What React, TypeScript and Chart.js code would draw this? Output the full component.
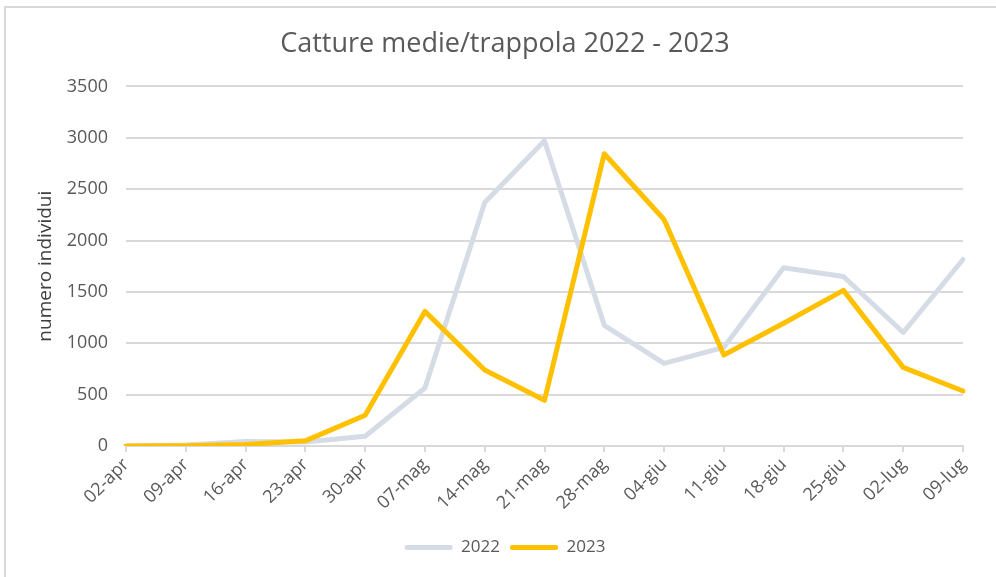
import React, { useEffect, useRef } from "react";
import { Chart, registerables } from "chart.js";

Chart.register(...registerables);

const categories = [
  "02-apr", "09-apr", "16-apr", "23-apr", "30-apr", "07-mag", "14-mag", "21-mag",
  "28-mag", "04-giu", "11-giu", "18-giu", "25-giu", "02-lug", "09-lug",
];
const values2022 = [0, 10, 45, 40, 95, 565, 2370, 2970, 1175, 805, 960, 1735, 1650, 1105, 1815];
const values2023 = [0, 2, 15, 50, 300, 1310, 740, 445, 2845, 2205, 885, 1195, 1515, 765, 535];
const yMin = 0;
const yMax = 3500;
const yStep = 500;

const FONT = "'Open Sans', 'Noto Sans', sans-serif";
const TEXT = "#595959";
const GRID = "#d9d9d9";

export default function App() {
  const ref = useRef<HTMLCanvasElement>(null);
  useEffect(() => {
    if (!ref.current) return;
    const chart = new Chart(ref.current, {
      type: "line",
      data: {
        labels: categories,
        datasets: [
          {
            label: "2022",
            data: values2022,
            borderColor: "#D6DCE5",
            backgroundColor: "#D6DCE5",
            borderWidth: 5,
            pointRadius: 0,
            tension: 0,
            borderCapStyle: "round",
            borderJoinStyle: "round",
            order: 1,
          },
          {
            label: "2023",
            data: values2023,
            borderColor: "#FFC000",
            backgroundColor: "#FFC000",
            borderWidth: 5,
            pointRadius: 0,
            tension: 0,
            borderCapStyle: "round",
            borderJoinStyle: "round",
            order: 0,
          },
        ],
      },
      options: {
        responsive: false,
        animation: false,
        layout: { padding: { left: 47, right: 33, top: 20, bottom: 11 } },
        plugins: {
          title: {
            display: true,
            text: "Catture medie/trappola 2022 - 2023",
            color: TEXT,
            font: { family: FONT, size: 27, weight: "normal" },
            padding: { top: 8, bottom: 26 },
          },
          legend: {
            position: "bottom",
            labels: {
              boxWidth: 48,
              boxHeight: 5,
              color: TEXT,
              font: { family: FONT, size: 17 },
              padding: 10,
              useBorderRadius: true,
              borderRadius: 2,
              sort: (a: any, b: any) => a.text.localeCompare(b.text),
              generateLabels: (c: any) =>
                Chart.defaults.plugins.legend.labels
                  .generateLabels(c)
                  .map((it: any) => ({ ...it, lineWidth: 0 })),
            },
          },
          tooltip: { enabled: false },
        },
        scales: {
          x: {
            grid: {
              drawOnChartArea: false,
              drawTicks: true,
              tickLength: 6,
              color: GRID,
              lineWidth: 2,
            },
            border: { color: GRID, width: 2 },
            ticks: {
              maxRotation: 45,
              minRotation: 45,
              color: TEXT,
              font: { family: FONT, size: 18 },
              padding: 2,
              autoSkip: false,
            },
            afterFit: (s: any) => {
              s.height = 83;
            },
          },
          y: {
            min: yMin,
            max: yMax,
            ticks: {
              stepSize: yStep,
              color: TEXT,
              font: { family: FONT, size: 18 },
              padding: 18,
              callback: (v: any) => String(v),
            },
            grid: { color: GRID, lineWidth: 2, drawTicks: false },
            border: { display: false },
            title: {
              display: true,
              text: "numero individui",
              color: "#404040",
              font: { family: FONT, size: 19 },
              padding: { top: -13, bottom: 0 },
            },
            afterFit: (s: any) => {
              s.width = 79;
            },
          },
        },
      },
    } as any);
    return () => chart.destroy();
  }, []);

  return (
    <div style={{ position: "absolute", left: 0, top: 0, width: 996, height: 577, background: "#fff" }}>
      <div
        style={{
          position: "absolute",
          left: 4,
          top: 6,
          right: 0,
          bottom: 0,
          borderTop: `2px solid ${GRID}`,
          borderLeft: `2px solid ${GRID}`,
        }}
      />
      <canvas ref={ref} width={996} height={577} style={{ position: "absolute", left: 0, top: 0 }} />
    </div>
  );
}
